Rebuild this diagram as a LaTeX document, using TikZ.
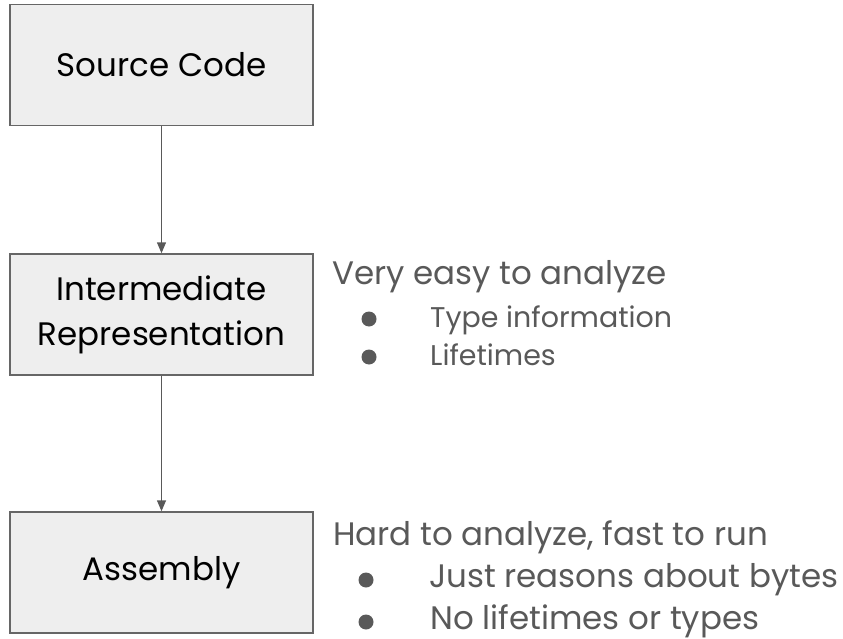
\documentclass[tikz,border=0pt]{standalone}
\usepackage{fontspec}
\setmainfont{Poppins}
\usetikzlibrary{arrows.meta,positioning}
\definecolor{boxfill}{HTML}{EEEEEE}
\definecolor{boxline}{HTML}{666666}
\definecolor{notegray}{HTML}{595959}

\begin{document}
\begin{tikzpicture}[x=1pt, y=-1pt, >={Triangle[length=11pt, width=9pt]}]
		\tikzstyle{stage} = [draw=boxline, fill=boxfill, line width=1.5pt, minimum width=303pt, minimum height=121pt, inner sep=0pt, align=center, font=\fontsize{32.5}{45}\selectfont]
		\tikzstyle{note} = [anchor=base west, inner sep=0pt, text=notegray, font=\fontsize{32.5}{36}\selectfont]
		\tikzstyle{small} = [note, font=\fontsize{28.5}{34}\selectfont]
		\tikzstyle{dot} = [circle, fill=notegray, minimum size=15pt, inner sep=0pt]

		\useasboundingbox (0,0) rectangle (843,639);

		% the three stages
		\node[stage] (src) at (161.5,65) {Source Code};
		\node[stage] (ir) at (161.5,314.5) {Intermediate\\Representation};
		\node[stage] (asm) at (161.5,572.5) {Assembly};

		\path[->, line width=1.5pt]
		(src) edge[notegray] (ir)
		(ir) edge[notegray] (asm)
		;

		% notes beside the IR
		\node[note] (irnote) at (332,284) {Very easy to analyze};
		\node[small] (iritem1) at (430,327) {Type information};
		\node[small] (iritem2) at (430,365) {Lifetimes};
		\node[dot] (irdot1) at (369,319) {};
		\node[dot] (irdot2) at (369,357) {};

		% notes beside the assembly
		\node[note] (asmnote) at (333,545) {Hard to analyze, fast to run};
		\node[note] (asmitem1) at (429,587) {Just reasons about bytes};
		\node[note] (asmitem2) at (430,629) {No lifetimes or types};
		\node[dot] (asmdot1) at (366,580) {};
		\node[dot] (asmdot2) at (366,622) {};
\end{tikzpicture}
\end{document}
